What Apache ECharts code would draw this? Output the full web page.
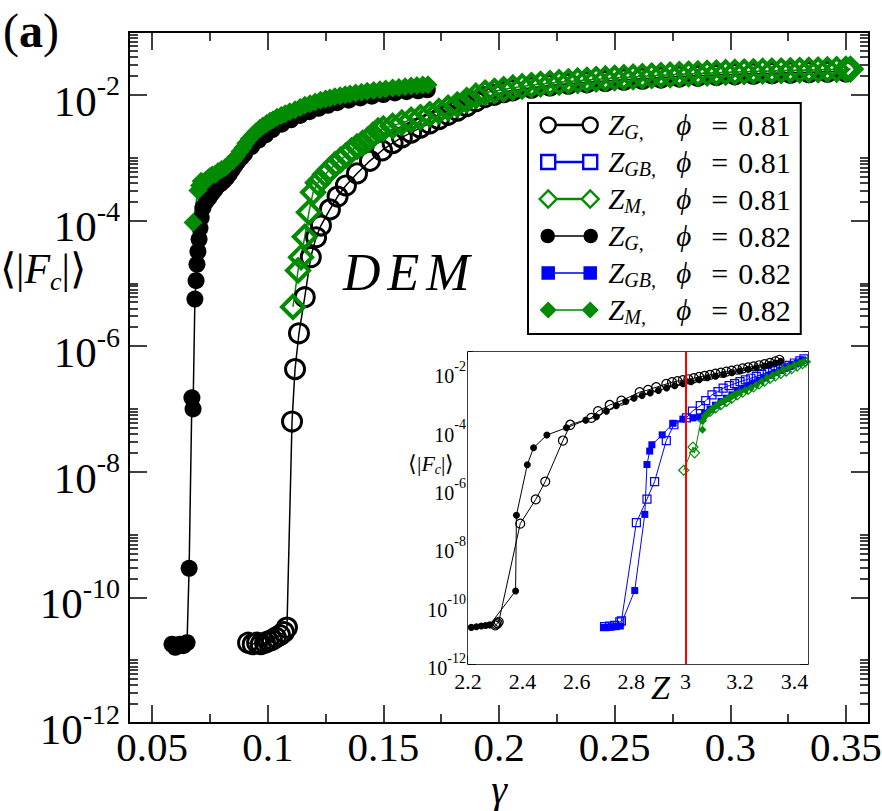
<!DOCTYPE html>
<html lang="en">
<head>
<meta charset="UTF-8">
<title>Fc vs gamma</title>
<style>
  html, body { margin: 0; padding: 0; background: #fff; }
  #chart { width: 882px; height: 811px; }
</style>
</head>
<body>
<div id="chart"></div>
<script src="https://cdn.jsdelivr.net/npm/echarts@6/dist/echarts.min.js"></script>
<script>
  // main panel: [gamma, <|Fc|>]
  const mainZG081 = [[0.0915,1.9e-11],[0.0935,1.8e-11],[0.0954,1.9e-11],[0.0970,1.8e-11],[0.0988,1.9e-11],[0.1003,2.0e-11],[0.1018,2.1e-11],[0.1035,2.3e-11],[0.1053,2.5e-11],[0.1070,2.8e-11],[0.1083,3.3e-11],
    [0.1105,6.3e-8],[0.1118,4.3e-7],[0.1135,1.6e-6],[0.1160,6.0e-6],[0.1186,2.6e-5],[0.1209,5.4e-5],[0.1230,8.3e-5],[0.1269,1.5e-4],[0.1302,2.4e-4],[0.1338,3.6e-4],[0.1386,5.6e-4],[0.1442,8.9e-4],[0.1494,1.3e-3],
    [0.154,1.7e-3],[0.158,2.1e-3],[0.162,2.5e-3],[0.166,3.0e-3],[0.170,3.5e-3],[0.174,4.1e-3],[0.178,4.8e-3],[0.182,5.6e-3],[0.186,6.6e-3],[0.190,7.9e-3],[0.194,9.2e-3],[0.198,1.0e-2],[0.202,1.1e-2],[0.206,1.18e-2],
    [0.214,1.3e-2],[0.222,1.41e-2],[0.230,1.5e-2],[0.238,1.58e-2],[0.246,1.66e-2],[0.254,1.74e-2],[0.262,1.81e-2],[0.270,1.88e-2],[0.278,1.95e-2],[0.286,2.01e-2],[0.294,2.07e-2],[0.302,2.12e-2],[0.310,2.17e-2],
    [0.318,2.21e-2],[0.326,2.25e-2],[0.334,2.29e-2],[0.342,2.33e-2],[0.350,2.36e-2]];
  const mainZM081 = [[0.1109,4.2e-6],[0.1131,1.6e-5],[0.1144,2.6e-5],[0.1160,5.5e-5],[0.1178,1.35e-4],[0.1196,2.8e-4],[0.1217,4.0e-4],[0.1248,5.4e-4],[0.1270,6.5e-4],[0.1291,7.8e-4],[0.1315,9.2e-4],[0.1338,1.08e-3],
    [0.1362,1.3e-3],[0.1386,1.5e-3],[0.1410,1.7e-3],[0.1434,1.94e-3],[0.1455,2.3e-3],[0.1477,2.7e-3],[0.150,2.9e-3],[0.154,3.2e-3],[0.158,3.6e-3],[0.162,4.0e-3],[0.166,4.4e-3],[0.170,4.9e-3],[0.174,5.5e-3],
    [0.178,6.2e-3],[0.182,7.0e-3],[0.186,8.2e-3],[0.190,9.6e-3],[0.194,1.08e-2],[0.198,1.15e-2],[0.202,1.22e-2],[0.206,1.3e-2],[0.210,1.36e-2],[0.214,1.42e-2],[0.218,1.48e-2],[0.222,1.53e-2],[0.226,1.58e-2],
    [0.230,1.63e-2],[0.234,1.68e-2],[0.238,1.72e-2],[0.242,1.77e-2],[0.246,1.81e-2],[0.250,1.85e-2],[0.254,1.89e-2],[0.258,1.93e-2],[0.262,1.97e-2],[0.266,2.01e-2],[0.270,2.05e-2],[0.274,2.08e-2],[0.278,2.12e-2],
    [0.282,2.15e-2],[0.286,2.18e-2],[0.290,2.21e-2],[0.294,2.24e-2],[0.298,2.27e-2],[0.302,2.30e-2],[0.306,2.33e-2],[0.310,2.35e-2],[0.314,2.38e-2],[0.318,2.40e-2],[0.322,2.42e-2],[0.326,2.44e-2],[0.330,2.46e-2],
    [0.334,2.48e-2],[0.338,2.50e-2],[0.342,2.52e-2],[0.346,2.54e-2],[0.350,2.56e-2],[0.352,2.57e-2]];
  const mainZG082 = [[0.0586,1.8e-11],[0.0600,1.6e-11],[0.0612,1.7e-11],[0.0621,1.8e-11],[0.0635,1.7e-11],[0.0651,1.9e-11],[0.0660,2.9e-10],[0.0672,1.5e-7],[0.0677,1.0e-7],[0.0685,5.6e-6],[0.0690,1.1e-5],
    [0.0694,2.0e-5],[0.0698,3.2e-5],[0.0703,5.0e-5],[0.0707,7.5e-5],[0.0712,1.1e-4],[0.0720,1.6e-4],[0.0733,2.0e-4],[0.0746,2.3e-4],[0.0759,2.7e-4],[0.0772,3.1e-4],[0.0785,3.6e-4],[0.0798,3.9e-4],[0.0810,4.3e-4],
    [0.0822,4.8e-4],[0.0834,5.5e-4],[0.0846,6.4e-4],[0.0858,7.5e-4],[0.0870,8.6e-4],[0.0885,1.0e-3],[0.0900,1.15e-3],[0.0930,1.5e-3],[0.0960,1.9e-3],[0.0990,2.3e-3],[0.1020,2.8e-3],[0.1060,3.4e-3],[0.1100,4.0e-3],
    [0.1140,4.7e-3],[0.1180,5.4e-3],[0.1220,6.1e-3],[0.1260,6.8e-3],[0.1300,7.5e-3],[0.1350,8.2e-3],[0.1400,8.9e-3],[0.1450,9.5e-3],[0.1500,1.01e-2],[0.1550,1.07e-2],[0.1600,1.12e-2],[0.1650,1.16e-2],[0.1690,1.2e-2]];
  const mainZM082 = [[0.0677,9.3e-5],[0.0698,3.0e-4],[0.0705,3.6e-4],[0.0712,4.2e-4],[0.0720,3.8e-4],[0.0729,4.3e-4],[0.0740,4.6e-4],[0.0750,5.0e-4],[0.0760,5.3e-4],[0.0772,5.4e-4],[0.0785,6.0e-4],[0.0800,6.5e-4],
    [0.0815,6.9e-4],[0.0830,7.8e-4],[0.0850,8.9e-4],[0.0865,1.05e-3],[0.0880,1.25e-3],[0.0893,1.44e-3],[0.0905,1.7e-3],[0.0920,2.0e-3],[0.0936,2.3e-3],[0.0950,2.6e-3],[0.0965,2.9e-3],[0.0979,3.2e-3],[0.0995,3.5e-3],
    [0.1010,3.8e-3],[0.1023,4.0e-3],[0.1040,4.4e-3],[0.1058,4.7e-3],[0.1075,5.0e-3],[0.1095,5.4e-3],[0.1118,5.8e-3],[0.1140,6.3e-3],[0.1160,6.8e-3],[0.1183,7.2e-3],[0.1205,7.7e-3],[0.1228,8.2e-3],[0.1250,8.6e-3],
    [0.1269,8.9e-3],[0.1290,9.3e-3],[0.1313,9.7e-3],[0.1335,1.0e-2],[0.1356,1.03e-2],[0.1380,1.07e-2],[0.1405,1.1e-2],[0.1430,1.14e-2],[0.1458,1.17e-2],[0.1485,1.2e-2],[0.1510,1.24e-2],[0.1540,1.28e-2],
    [0.1567,1.31e-2],[0.1594,1.35e-2],[0.1620,1.38e-2],[0.1645,1.41e-2],[0.1670,1.43e-2],[0.1693,1.45e-2]];

  // inset: [Z, <|Fc|>]
  const insetZG081 = [[2.300,2.1e-11],[2.304,2.3e-11],[2.309,2.5e-11],[2.313,2.8e-11],[2.392,6.5e-8],[2.449,4.4e-7],[2.484,1.8e-6],[2.549,4.6e-5],[2.576,1.6e-4],[2.653,2.75e-4],[2.678,4.7e-4],[2.721,7.6e-4],
    [2.764,1.07e-3],[2.831,2.1e-3],[2.862,2.5e-3],[2.892,3.1e-3],[2.929,4.0e-3],[2.95,4.6e-3],[2.97,5.0e-3],[2.99,5.4e-3],[3.01,5.8e-3],[3.03,6.3e-3],[3.05,7.0e-3],[3.07,7.6e-3],[3.09,8.2e-3],[3.11,9.0e-3],
    [3.13,9.8e-3],[3.15,1.06e-2],[3.17,1.15e-2],[3.19,1.25e-2],[3.21,1.36e-2],[3.23,1.48e-2],[3.25,1.6e-2],[3.27,1.75e-2],[3.29,1.9e-2],[3.31,2.1e-2],[3.33,2.4e-2],[3.345,2.7e-2]];
  const insetZGB081 = [[2.702,1.9e-11],[2.721,2.0e-11],[2.739,2.1e-11],[2.758,2.8e-11],[2.764,3.0e-11],[2.819,7.1e-8],[2.858,4.5e-7],[2.886,1.8e-6],[2.929,4.6e-5],[2.957,1.6e-4],[3.003,2.75e-4],[3.025,4.7e-4],
    [3.054,7.2e-4],[3.074,1.07e-3],[3.097,1.7e-3],[3.119,2.2e-3],[3.138,2.9e-3],[3.16,3.5e-3],[3.18,4.1e-3],[3.20,4.8e-3],[3.22,5.5e-3],[3.24,6.3e-3],[3.26,7.3e-3],[3.28,8.5e-3],[3.30,1.0e-2],[3.32,1.15e-2],
    [3.34,1.3e-2],[3.36,1.5e-2],[3.38,1.75e-2],[3.40,2.1e-2],[3.42,2.5e-2],[3.435,2.9e-2]];
  const insetZM081 = [[2.993,4.4e-6],[3.027,2.75e-5],[3.033,1.74e-5],[3.058,2.6e-4],[3.07,3.5e-4],[3.09,4.6e-4],[3.11,6.0e-4],[3.13,7.8e-4],[3.15,1.0e-3],[3.17,1.3e-3],[3.19,1.7e-3],[3.21,2.1e-3],[3.23,2.6e-3],
    [3.25,3.2e-3],[3.27,4.0e-3],[3.29,5.0e-3],[3.31,6.2e-3],[3.33,7.6e-3],[3.35,9.2e-3],[3.37,1.1e-2],[3.39,1.35e-2],[3.41,1.65e-2],[3.43,2.0e-2],[3.44,2.3e-2]];
  const insetZG082 = [[2.212,1.8e-11],[2.231,1.9e-11],[2.249,2.0e-11],[2.265,2.1e-11],[2.280,2.2e-11],[2.375,3.2e-10],[2.378,1.26e-7],[2.418,6.8e-6],[2.441,2.6e-5],[2.490,7.1e-5],[2.562,1.26e-4],[2.633,2.3e-4],
    [2.672,3.0e-4],[2.709,4.7e-4],[2.745,7.2e-4],[2.78,1.0e-3],[2.81,1.3e-3],[2.84,1.6e-3],[2.87,1.95e-3],[2.90,2.4e-3],[2.93,2.9e-3],[2.96,3.5e-3],[2.99,4.1e-3],[3.02,4.8e-3],[3.05,5.6e-3],[3.08,6.5e-3],
    [3.11,7.4e-3],[3.14,8.5e-3],[3.17,9.8e-3],[3.20,1.12e-2],[3.23,1.28e-2],[3.26,1.45e-2],[3.29,1.65e-2],[3.31,1.85e-2],[3.33,2.1e-2],[3.35,2.4e-2]];
  const insetZGB082 = [[2.702,1.8e-11],[2.715,1.8e-11],[2.730,1.9e-11],[2.745,1.9e-11],[2.760,2.0e-11],[2.813,3.3e-10],[2.850,1.35e-7],[2.858,6.9e-6],[2.868,2.0e-5],[2.876,3.3e-5],[2.914,7.2e-5],[2.954,1.8e-4],
    [2.990,2.5e-4],[3.027,2.75e-4],[3.052,3.0e-4],[3.07,4.0e-4],[3.09,5.5e-4],[3.11,7.5e-4],[3.13,1.0e-3],[3.15,1.3e-3],[3.17,1.7e-3],[3.19,2.2e-3],[3.21,2.8e-3],[3.23,3.5e-3],[3.25,4.3e-3],[3.27,5.3e-3],
    [3.29,6.5e-3],[3.31,8.0e-3],[3.33,9.8e-3],[3.35,1.2e-2],[3.37,1.45e-2],[3.39,1.75e-2],[3.41,2.1e-2],[3.43,2.6e-2]];
  const insetZM082 = [[3.062,1.07e-4],[3.064,2.2e-4],[3.07,3.2e-4],[3.08,4.0e-4],[3.09,4.8e-4],[3.10,5.8e-4],[3.11,6.8e-4],[3.12,8.0e-4],[3.13,9.2e-4],[3.14,1.05e-3],[3.15,1.2e-3],[3.16,1.35e-3],[3.17,1.5e-3],
    [3.18,1.7e-3],[3.19,1.9e-3],[3.20,2.1e-3],[3.22,2.5e-3],[3.24,3.0e-3],[3.26,3.8e-3],[3.28,5.0e-3],[3.30,6.5e-3],[3.32,8.0e-3],[3.34,1.0e-2],[3.36,1.25e-2],[3.38,1.5e-2],[3.40,1.8e-2],[3.42,2.1e-2],[3.435,2.4e-2]];

  // ticks
  const gammaTicks = [0.05, 0.1, 0.15, 0.2, 0.25, 0.3, 0.35];
  const gammaMinor = [0.075, 0.125, 0.175, 0.225, 0.275, 0.325];
  const zTicks = [2.2, 2.4, 2.6, 2.8, 3, 3.2, 3.4];
  const zMinor = [2.3, 2.5, 2.7, 2.9, 3.1, 3.3];
  const decades = [-12, -10, -8, -6, -4, -2];

  const serif = 'Liberation Serif';
  const insetTop = Math.log10(0.05);

  function minorLog(max) {
    const out = [];
    decades.forEach(k => {
      for (let m = 2; m <= 10; m++) {
        const v = k + Math.log10(m);
        if (v <= max + 1e-9) out.push(v);
      }
    });
    return out;
  }

  function axis(grid, pos, min, max, vals, len, lineW, label) {
    return {
      type: 'value', gridIndex: grid, position: pos, min: min, max: max,
      splitLine: { show: false },
      axisLine: { show: lineW > 0, onZero: false, lineStyle: { color: '#000', width: lineW } },
      axisTick: { show: true, inside: true, length: len, customValues: vals, lineStyle: { color: '#000', width: 1.5 } },
      axisLabel: label ? Object.assign({ customValues: vals, color: '#000', fontFamily: serif, fontStyle: 'normal' }, label) : { show: false }
    };
  }

  // 10^n labels: exponent raised above the mantissa
  const mainYLabel = {
    margin: 9, padding: [0, 0, 6, 0], fontSize: 43,
    formatter: v => '{b|10}{s|' + v + '}',
    rich: {
      b: { fontSize: 43, lineHeight: 40, verticalAlign: 'top', padding: [8, 0, 0, 0], fontFamily: serif, color: '#000' },
      s: { fontSize: 28, lineHeight: 28, verticalAlign: 'top', fontFamily: serif, color: '#000' }
    }
  };
  const insetYLabel = {
    margin: 2, padding: [0, 0, 13, 0], fontSize: 20,
    formatter: v => '{b|10}{s|' + v + '}',
    rich: {
      b: { fontSize: 20, lineHeight: 13, verticalAlign: 'top', padding: [7, 0, 0, 0], fontFamily: serif, color: '#000' },
      s: { fontSize: 14, lineHeight: 11, verticalAlign: 'top', fontFamily: serif, color: '#000' }
    }
  };

  const xAxes = [
    axis(0, 'bottom', 0.04, 0.36, gammaTicks, 18, 2, { fontSize: 41, lineHeight: 34, margin: 7, formatter: v => String(v) }),
    axis(0, 'bottom', 0.04, 0.36, gammaMinor, 9, 0),
    axis(0, 'top', 0.04, 0.36, gammaTicks, 18, 2),
    axis(0, 'top', 0.04, 0.36, gammaMinor, 9, 0),
    axis(1, 'bottom', 2.2, 3.45, zTicks, 8, 1.5, { fontSize: 22, lineHeight: 14, margin: 10, formatter: v => String(v) }),
    axis(1, 'bottom', 2.2, 3.45, zMinor, 5, 0),
    axis(1, 'top', 2.2, 3.45, zTicks, 8, 1.5),
    axis(1, 'top', 2.2, 3.45, zMinor, 5, 0)
  ];
  const yAxes = [
    axis(0, 'left', -12, -1, decades, 18, 2, mainYLabel),
    axis(0, 'left', -12, -1, minorLog(-1), 9, 0),
    axis(0, 'right', -12, -1, decades, 18, 2),
    axis(0, 'right', -12, -1, minorLog(-1), 9, 0),
    axis(1, 'left', -12, insetTop, decades, 8, 1.5, insetYLabel),
    axis(1, 'left', -12, insetTop, minorLog(insetTop), 5, 0),
    axis(1, 'right', -12, insetTop, decades, 8, 1.5),
    axis(1, 'right', -12, insetTop, minorLog(insetTop), 5, 0)
  ];

  function line(name, data, ax, sym, size, color, filled, bw, lw) {
    return {
      name: name, type: 'line', xAxisIndex: ax, yAxisIndex: ax,
      data: data.map(p => [p[0], Math.log10(p[1])]),
      symbol: sym, symbolSize: size, showSymbol: true,
      silent: true, animation: false, emphasis: { disabled: true },
      lineStyle: { color: color, width: lw },
      itemStyle: { color: filled ? color : 'rgba(255,255,255,0)', borderColor: color, borderWidth: filled ? 0 : bw }
    };
  }

  const black = '#000000', blue = '#0000ff', green = '#008b00';
  const series = [
    line('ZG081', mainZG081, 0, 'circle', 19, black, false, 3, 1.5),
    line('ZM081', mainZM081, 0, 'diamond', 22, green, false, 4, 1.5),
    line('ZG082', mainZG082, 0, 'circle', 17, black, true, 0, 1.5),
    line('ZM082', mainZM082, 0, 'diamond', 19, green, true, 0, 1.5),
    line('ZG081', insetZG081, 4, 'circle', 9, black, false, 1.2, 1),
    line('ZGB081', insetZGB081, 4, 'rect', 8, blue, false, 1.2, 1),
    line('ZM081', insetZM081, 4, 'diamond', 10, green, false, 1.2, 1),
    line('ZG082', insetZG082, 4, 'circle', 7, black, true, 0, 1),
    line('ZGB082', insetZGB082, 4, 'rect', 7, blue, true, 0, 1),
    line('ZM082', insetZM082, 4, 'diamond', 8, green, true, 0, 1)
  ];
  series[series.length - 1].markLine = {
    symbol: ['none', 'none'], silent: true, animation: false, label: { show: false },
    lineStyle: { color: '#ff0000', width: 2, type: 'solid' },
    data: [{ xAxis: 3 }]
  };

  // legend icons: marker - line - marker, box 60 x 18
  const box = 'M0 0M60 18';
  const icons = {
    circleOpen: 'path://' + box + 'M1.5 9a7.5 7.5 0 1 0 15 0a7.5 7.5 0 1 0 -15 0ZM16.5 9L43.5 9M43.5 9a7.5 7.5 0 1 0 15 0a7.5 7.5 0 1 0 -15 0Z',
    rectOpen: 'path://' + box + 'M2 2h14v14h-14ZM16 9L44 9M44 2h14v14h-14Z',
    diamondOpen: 'path://' + box + 'M0.5 9L9 0.5L17.5 9L9 17.5ZM17.5 9L42.5 9M42.5 9L51 0.5L59.5 9L51 17.5Z',
    circleFull: 'path://' + box + 'M2 9a6.5 6.5 0 1 0 13 0a6.5 6.5 0 1 0 -13 0ZM15 9L45 9M45 9a6.5 6.5 0 1 0 13 0a6.5 6.5 0 1 0 -13 0Z',
    rectFull: 'path://' + box + 'M3 3h12v12h-12ZM15 9L45 9M45 3h12v12h-12Z',
    diamondFull: 'path://' + box + 'M1.5 9L9 1.5L16.5 9L9 16.5ZM16.5 9L43.5 9M43.5 9L51 1.5L58.5 9L51 16.5Z'
  };
  const legendItems = [
    { name: 'ZG081', icon: icons.circleOpen, itemStyle: { color: 'rgba(0,0,0,0)', borderColor: black, borderWidth: 2.4 } },
    { name: 'ZGB081', icon: icons.rectOpen, itemStyle: { color: 'rgba(0,0,0,0)', borderColor: blue, borderWidth: 2.4 } },
    { name: 'ZM081', icon: icons.diamondOpen, itemStyle: { color: 'rgba(0,0,0,0)', borderColor: green, borderWidth: 2.4 } },
    { name: 'ZG082', icon: icons.circleFull, itemStyle: { color: black, borderColor: black, borderWidth: 1.5 } },
    { name: 'ZGB082', icon: icons.rectFull, itemStyle: { color: blue, borderColor: blue, borderWidth: 1.5 } },
    { name: 'ZM082', icon: icons.diamondFull, itemStyle: { color: green, borderColor: green, borderWidth: 1.5 } }
  ];
  const legendText = {
    ZG081: '{z|Z}{s|G,}{p|ϕ}{e|=}{n|0.81}',
    ZGB081: '{z|Z}{s|GB,}{p|ϕ}{e|=}{n|0.81}',
    ZM081: '{z|Z}{s|M,}{p|ϕ}{e|=}{n|0.81}',
    ZG082: '{z|Z}{s|G,}{p|ϕ}{e|=}{n|0.82}',
    ZGB082: '{z|Z}{s|GB,}{p|ϕ}{e|=}{n|0.82}',
    ZM082: '{z|Z}{s|M,}{p|ϕ}{e|=}{n|0.82}'
  };

  const chart = echarts.init(document.getElementById('chart'), null, { renderer: 'svg' });
  chart.setOption({
    animation: false,
    backgroundColor: '#fff',
    textStyle: { fontFamily: serif, color: '#000' },
    grid: [
      { left: 129, top: 32, width: 740, height: 691, outerBoundsMode: 'none' },
      { left: 468, top: 352, width: 340, height: 312, show: true, backgroundColor: '#fff', borderWidth: 0, z: 3, outerBoundsMode: 'none' }
    ],
    xAxis: xAxes,
    yAxis: yAxes,
    legend: {
      data: legendItems,
      orient: 'vertical', left: 528, top: 103,
      padding: [7, 10, 7, 10], itemGap: 5, itemWidth: 60, itemHeight: 18,
      borderColor: '#000', borderWidth: 2, backgroundColor: '#fff',
      selectedMode: false, z: 10,
      formatter: n => legendText[n],
      textStyle: {
        padding: [0, 0, 0, 4],
        rich: {
          z: { fontFamily: serif, fontStyle: 'italic', fontSize: 29, lineHeight: 34, color: '#000' },
          s: { fontFamily: serif, fontStyle: 'italic', fontSize: 20, lineHeight: 20, width: 52, verticalAlign: 'bottom', color: '#000' },
          p: { fontFamily: serif, fontStyle: 'italic', fontSize: 29, lineHeight: 34, color: '#000' },
          e: { fontFamily: serif, fontStyle: 'normal', fontSize: 30, lineHeight: 34, padding: [0, 10, 0, 20], color: '#000' },
          n: { fontFamily: serif, fontStyle: 'normal', fontSize: 30, lineHeight: 34, color: '#000' }
        }
      }
    },
    graphic: [
      { type: 'text', left: 3, top: 6, z: 20, style: { text: '{p|(}{a|a}{p|)}', rich: {
        p: { fontFamily: serif, fontSize: 48, lineHeight: 52, color: '#000' },
        a: { fontFamily: serif, fontSize: 48, lineHeight: 52, fontWeight: 'bold', color: '#000' } } } },
      { type: 'text', left: 343, top: 246, z: 20, style: { text: '{d|D}{d|E}{m|M}', rich: {
        d: { fontFamily: serif, fontStyle: 'italic', fontSize: 52, padding: [0, 7, 0, 0], color: '#000' },
        m: { fontFamily: serif, fontStyle: 'italic', fontSize: 52, color: '#000' } } } },
      { type: 'text', left: 0, top: 248, z: 20, style: { text: '{b|⟨|}{f|F}{c|c}{b||⟩}', rich: {
        b: { fontFamily: serif, fontSize: 42, lineHeight: 50, color: '#000' },
        f: { fontFamily: serif, fontStyle: 'italic', fontSize: 42, lineHeight: 50, color: '#000' },
        c: { fontFamily: serif, fontStyle: 'italic', fontSize: 26, lineHeight: 26, verticalAlign: 'bottom', color: '#000' } } } },
      { type: 'text', left: 408, top: 452, z: 20, style: { text: '{b|⟨|}{f|F}{c|c}{b||⟩}', rich: {
        b: { fontFamily: serif, fontSize: 22, lineHeight: 26, color: '#000' },
        f: { fontFamily: serif, fontStyle: 'italic', fontSize: 22, lineHeight: 26, color: '#000' },
        c: { fontFamily: serif, fontStyle: 'italic', fontSize: 14, lineHeight: 14, verticalAlign: 'bottom', color: '#000' } } } },
      { type: 'text', left: 651, top: 670, z: 20, style: { text: 'Z', fontFamily: serif, fontStyle: 'italic', fontSize: 34, fill: '#000' } },
      { type: 'text', x: 499, y: 789, z: 20, style: { text: 'γ', fontFamily: serif, fontStyle: 'italic', fontSize: 40, lineHeight: 20, fill: '#000', align: 'center', verticalAlign: 'middle' } }
    ],
    series: series
  });
</script>
</body>
</html>
